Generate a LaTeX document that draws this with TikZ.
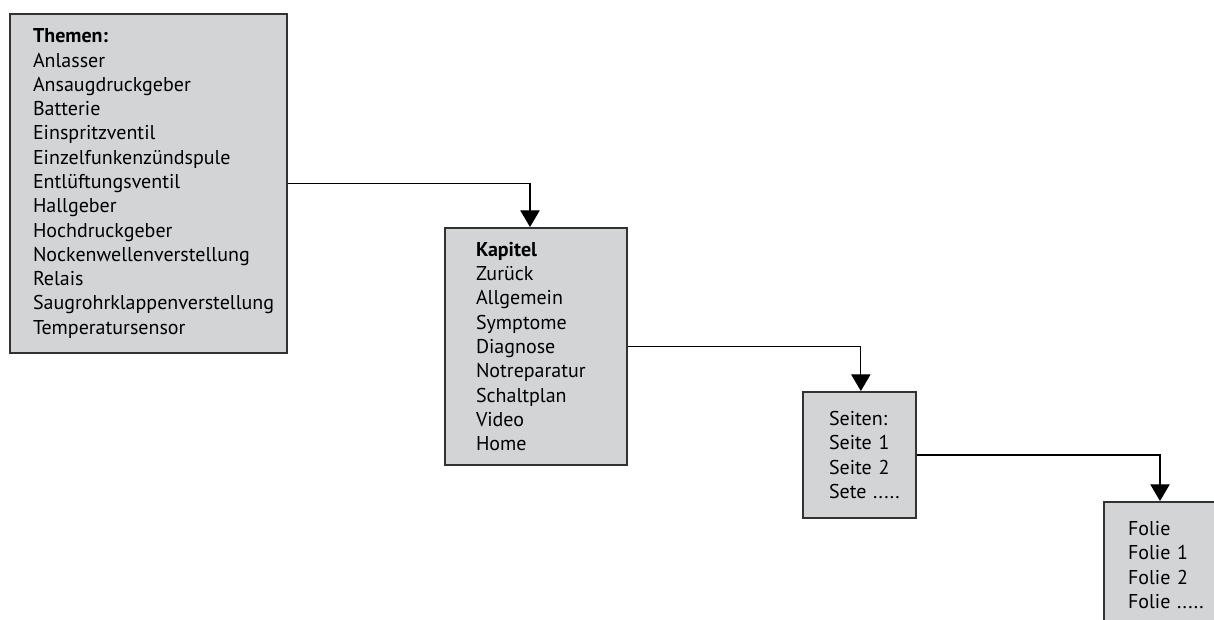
\documentclass[tikz,border=0pt]{standalone}
\usepackage{fontspec}
\setmainfont{PT Sans}
\usetikzlibrary{arrows.meta,positioning}
\definecolor{boxgray}{RGB}{211,212,214}
\definecolor{boxline}{RGB}{50,50,50}
\newcommand{\px}{0.75pt}
\tikzset{%
	menubox/.style = {draw=boxline, fill=boxgray, line width=1.5pt, anchor=north west, align=left, inner sep=0pt, font=\fontsize{15}{18.2}\selectfont},
	arrow/.style   = {line width=0.9pt, -{Triangle[width=14.5pt,length=12.5pt]}},
}
\begin{document}
\begin{tikzpicture}[x=\px,y=-\px]
	\clip (0,0) rectangle (1214,619);
	\node[menubox, minimum width=277*\px, minimum height=339*\px, text width=231*\px] (themen) at (9,13)
		{\textbf{Themen:}\\Anlasser\\Ansaugdruckgeber\\Batterie\\Einspritzventil\\Einzelfunkenzündspule\\Entlüftungsventil\\Hallgeber\\Hochdruckgeber\\Nockenwellenverstellung\\Relais\\Saugrohrklappenverstellung\\Temperatursensor};
	\node[menubox, minimum width=182*\px, minimum height=237*\px, text width=120*\px] (kapitel) at (444,227)
		{\textbf{Kapitel}\\Zurück\\Allgemein\\Symptome\\Diagnose\\Notreparatur\\Schaltplan\\Video\\Home};
	\node[menubox, minimum width=113*\px, minimum height=126*\px, text width=61*\px] (seiten) at (802,391)
		{Seiten:\\Seite~1\\Seite~2\\Sete~.....};
	\node[menubox, minimum width=112*\px, minimum height=126*\px, text width=64*\px] (folien) at (1103,501)
		{Folie\\Folie~1\\Folie~2\\Folie~.....};
	
	\draw[arrow] (themen.east) -| ([xshift=-4.5pt]kapitel.north);
	\draw[arrow] (kapitel.east) -| ([xshift=1pt]seiten.north);
	\draw[arrow] (seiten.east) -| (folien.north);
\end{tikzpicture}
\end{document}
